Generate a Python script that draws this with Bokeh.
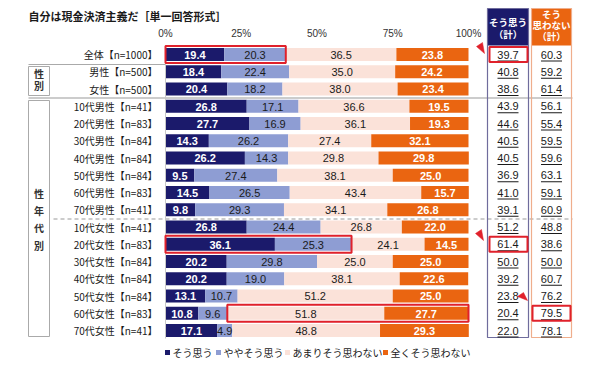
import numpy as np
from bokeh.plotting import figure
from bokeh.models import Range1d
from bokeh.core.properties import value
from bokeh.embed import file_html
from bokeh.resources import INLINE

# ---- data -------------------------------------------------------------
title_text = "自分は現金決済主義だ［単一回答形式］"
rows = [
    "全体【n=1000】",
    "男性【n=500】", "女性【n=500】",
    "10代男性【n=41】", "20代男性【n=83】", "30代男性【n=84】", "40代男性【n=84】",
    "50代男性【n=84】", "60代男性【n=83】", "70代男性【n=41】",
    "10代女性【n=41】", "20代女性【n=83】", "30代女性【n=84】", "40代女性【n=84】",
    "50代女性【n=84】", "60代女性【n=83】", "70代女性【n=41】",
]
agree      = [19.4, 18.4, 20.4, 26.8, 27.7, 14.3, 26.2, 9.5, 14.5, 9.8, 26.8, 36.1, 20.2, 20.2, 13.1, 10.8, 17.1]
somewhat   = [20.3, 22.4, 18.2, 17.1, 16.9, 26.2, 14.3, 27.4, 26.5, 29.3, 24.4, 25.3, 29.8, 19.0, 10.7, 9.6, 4.9]
not_much   = [36.5, 35.0, 38.0, 36.6, 36.1, 27.4, 29.8, 38.1, 43.4, 34.1, 26.8, 24.1, 25.0, 38.1, 51.2, 51.8, 48.8]
not_at_all = [23.8, 24.2, 23.4, 19.5, 19.3, 32.1, 29.8, 25.0, 15.7, 26.8, 22.0, 14.5, 25.0, 22.6, 25.0, 27.7, 29.3]
agree_total    = [39.7, 40.8, 38.6, 43.9, 44.6, 40.5, 40.5, 36.9, 41.0, 39.1, 51.2, 61.4, 50.0, 39.2, 23.8, 20.4, 22.0]
disagree_total = [60.3, 59.2, 61.4, 56.1, 55.4, 59.5, 59.6, 63.1, 59.1, 60.9, 48.8, 38.6, 50.0, 60.7, 76.2, 79.5, 78.1]
series_names = ["そう思う", "ややそう思う", "あまりそう思わない", "全くそう思わない"]
tick_values = [0, 25, 50, 75, 100]
tick_labels = ["0%", "25%", "50%", "75%", "100%"]
header_agree = ["そう思う", "（計）"]
header_disagree = ["そう", "思わない", "（計）"]
group_sex = ["性", "別"]
group_age = ["性", "年", "代", "別"]

# ---- styling ------------------------------------------------------------
NAVY = "#1b1a6b"
LIGHT = "#8e9dd3"
PINK = "#fbe2d9"
ORANGE = "#ea6511"
RED = "#e0212b"
TXT = "#1a1a1a"
colors = [NAVY, LIGHT, PINK, ORANGE]
label_colors = ["white", TXT, TXT, "white"]
label_weights = ["bold", "normal", "normal", "bold"]
JP = value("Noto Sans CJK JP")
NUM = value("Liberation Sans")

W, H = 590, 368
X0, SX = 165.0, 3.03      # screen x of 0 % and pixels per %
Y0, SY = 54.0, 17.25      # screen y of first row and pixels per row


def dx(px):
    return (px - X0) / SX


def dy(py):
    return (py - Y0) / SY


p = figure(width=W, height=H, output_backend="svg", toolbar_location=None,
           x_range=Range1d(dx(0), dx(W)), y_range=Range1d(dy(H), dy(0)),
           x_axis_type=None, y_axis_type=None, min_border=0,
           outline_line_color=None, background_fill_color="white")
p.grid.visible = False

n = len(rows)
ys = np.arange(n)
BAR_H = 13 / SY

# ---- separators and group boxes ------------------------------------------
p.segment(x0=[dx(28)], y0=[dy(64)], x1=[dx(165)], y1=[dy(64)], line_color="#aaaaaa", line_width=1)
p.segment(x0=[dx(28)], y0=[dy(97.5)], x1=[dx(572)], y1=[dy(97.5)], line_color="#999999", line_width=1)
p.segment(x0=[dx(53)], y0=[dy(218.5)], x1=[dx(572)], y1=[dy(218.5)], line_color="#999999",
          line_width=1, line_dash="4 3")
p.quad(left=[dx(28), dx(28)], right=[dx(49), dx(49)], top=[dy(66), dy(100)], bottom=[dy(95), dy(336)],
       fill_color="white", line_color="#aaaaaa", line_width=1)
p.text(x=[dx(38.5)] * 2, y=[dy(73), dy(85)], text=group_sex, text_font=JP, text_font_size="10px",
       text_font_style="bold", text_color="#333333", text_align="center", text_baseline="middle")
p.text(x=[dx(38.5)] * 4, y=[dy(193), dy(210), dy(227), dy(245)], text=group_age, text_font=JP,
       text_font_size="10px", text_font_style="bold", text_color="#333333",
       text_align="center", text_baseline="middle")

# ---- stacked bars ----------------------------------------------------------
data = np.array([agree, somewhat, not_much, not_at_all])
cum = np.vstack([np.zeros(n), np.cumsum(data, axis=0)])
for k in range(4):
    left, right = cum[k], cum[k + 1]
    p.hbar(y=ys, left=left, right=right, height=BAR_H, fill_color=colors[k], line_color=None)
for k in range(4):
    left, right = cum[k], cum[k + 1]
    p.text(x=(left + right) / 2, y=ys + 0.02, text=[f"{v:.1f}" for v in data[k]],
           text_font=NUM, text_font_size="11px", text_font_style=label_weights[k],
           text_color=label_colors[k], text_align="center", text_baseline="middle")

# value axis line and tick labels
p.segment(x0=[0], y0=[dy(45)], x1=[0], y1=[dy(338)], line_color="#c8c8c8", line_width=1)
p.text(x=tick_values, y=[dy(33)] * len(tick_values), text=tick_labels, text_font=NUM,
       text_font_size="10px", text_color="#333333", text_align="center", text_baseline="middle")

# category labels
p.text(x=[dx(157)] * n, y=ys, text=rows, text_font=JP, text_font_size="10px",
       text_color=TXT, text_align="right", text_baseline="middle")

# title
p.text(x=[dx(28)], y=[dy(15)], text=[title_text], text_font=JP, text_font_size="11px",
       text_font_style="bold", text_color=TXT, text_align="left", text_baseline="middle")

# ---- totals columns -------------------------------------------------------
CA, CD = 507.5, 551.0
p.quad(left=[dx(487)], right=[dx(528)], top=[dy(8)], bottom=[dy(45)], fill_color=NAVY, line_color=None)
p.quad(left=[dx(531)], right=[dx(571)], top=[dy(8)], bottom=[dy(45)], fill_color=ORANGE, line_color=None)
p.quad(left=[dx(487)], right=[dx(528)], top=[dy(8)], bottom=[dy(337)], fill_color=None,
       line_color="#6f6c9c", line_width=1.2)
p.quad(left=[dx(531)], right=[dx(571)], top=[dy(8)], bottom=[dy(337)], fill_color=None,
       line_color="#efae8c", line_width=1.2)
p.text(x=[dx(CA)] * 2, y=[dy(21), dy(33)], text=header_agree, text_font=JP, text_font_size="9.5px",
       text_font_style="bold", text_color="white", text_align="center", text_baseline="middle")
p.text(x=[dx(CD)] * 3, y=[dy(13), dy(24), dy(35)], text=header_disagree, text_font=JP,
       text_font_size="9.5px", text_font_style="bold", text_color="white",
       text_align="center", text_baseline="middle")

for cx, vals in ((CA, agree_total), (CD, disagree_total)):
    p.text(x=[dx(cx)] * n, y=ys, text=[f"{v:.1f}" for v in vals], text_font=NUM,
           text_font_size="11px", text_color=TXT, text_align="center", text_baseline="middle")
    p.segment(x0=[dx(cx - 10.5)] * n, y0=ys + 6.5 / SY, x1=[dx(cx + 10.5)] * n, y1=ys + 6.5 / SY,
              line_color=TXT, line_width=1)

# ---- highlights -------------------------------------------------------------
hl_rows = [0, 11, 15]
hl_left = [0, 0, agree[15] + somewhat[15]]
hl_right = [agree[0] + somewhat[0], agree[11] + somewhat[11], 100]
p.quad(left=hl_left, right=hl_right, top=[r - 8.5 / SY for r in hl_rows],
       bottom=[r + 8.5 / SY for r in hl_rows], fill_color=None, line_color=RED, line_width=2)
p.quad(left=[dx(489), dx(489), dx(532)], right=[dx(527), dx(527), dx(570)],
       top=[r - 7.5 / SY for r in hl_rows], bottom=[r + 7.5 / SY for r in hl_rows],
       fill_color=None, line_color=RED, line_width=2)
arrow_px = [
    [(482, 42), (476, 46), (484, 53)],
    [(481, 229), (475, 233), (483, 240)],
    [(523, 292), (517, 296), (527, 300)],
]
p.patches(xs=[[dx(a) for a, _ in tri] for tri in arrow_px],
          ys=[[dy(b) for _, b in tri] for tri in arrow_px],
          fill_color=RED, line_color=RED, line_width=0.5)

# ---- legend -----------------------------------------------------------------
leg_px = [167, 218, 287, 385]
p.scatter(x=[dx(v) for v in leg_px], y=[dy(352)] * 4, marker="square", size=5,
          fill_color=colors, line_color=None)
p.text(x=[dx(v + 5) for v in leg_px], y=[dy(352)] * 4, text=series_names, text_font=JP,
       text_font_size="10px", text_color=TXT, text_align="left", text_baseline="middle")

open("out.html", "w").write(file_html(p, INLINE))
